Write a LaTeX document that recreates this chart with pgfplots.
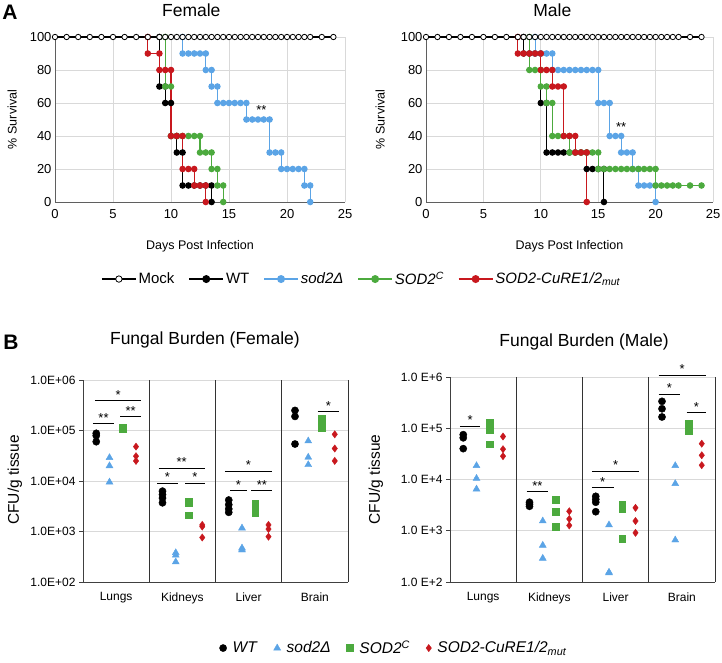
\documentclass[border=0pt]{standalone}
\usepackage{pgfplots}
\pgfplotsset{compat=1.18}
\usepackage{fontspec}
\setmainfont{Liberation Sans}
\definecolor{cblue}{RGB}{91,164,230}
\definecolor{cgreen}{RGB}{76,170,62}
\definecolor{cred}{RGB}{200,24,30}
\definecolor{gridc}{RGB}{217,217,217}
\definecolor{axc}{RGB}{95,95,95}
\pgfplotsset{
 surv/.style={
  scale only axis, height=165pt,
  xmin=0,xmax=25,ymin=0,ymax=100,
  xtick={0,5,...,25}, ytick={0,20,...,100},
  grid=major, major grid style={gridc, line width=0.8pt},
  axis x line=bottom, axis y line=left, axis line style={axc, line width=0.9pt, -},
  major tick length=0pt,
  tick label style={font=\fontsize{13}{15}\selectfont},
  xticklabel style={yshift=-4pt},
  /pgf/number format/assume math mode=true,
  xlabel={Days Post Infection}, ylabel={\% Survival},
  label style={font=\fontsize{12.5}{14}\selectfont},
  xlabel style={at={(axis description cs:0.5,-0.267)}, anchor=center},
  title style={font=\fontsize{17.5}{20}\selectfont, anchor=center},
  clip=false,
  every axis plot/.append style={line width=1.1pt, mark size=2.7pt},
 },
 mock/.style={black, mark=*, mark options={fill=white, draw=black, line width=0.8pt}},
 ser/.style={#1, mark=*, mark options={fill=#1, draw=#1}},
 burden/.style={
  scale only axis, width=265pt,
  xmin=0,xmax=4, ymin=100, ymax=1e6,
  ytick={1e2,1e3,1e4,1e5,1e6}, yminorticks=false,
  xtick={0.5,1.5,2.5,3.5}, xticklabels={Lungs,Kidneys,Liver,Brain},
  ymajorgrids, major grid style={gridc, line width=0.8pt},
  extra x ticks={1,2,3,4}, extra x tick labels={},
  extra x tick style={xmajorgrids=true, major grid style={black!80, line width=0.9pt}},
  axis x line=bottom, axis y line=left, axis line style={black!75, line width=0.9pt,-},
  xtick style={draw=none}, ytick style={draw=black!75, line width=0.8pt},
  tick align=outside, major tick length=4pt,
  yticklabel style={font=\fontsize{12}{14}\selectfont},
  xticklabel style={font=\fontsize{12}{14}\selectfont, yshift=-3pt},
  ylabel={CFU/g tissue}, ylabel style={font=\fontsize{15.5}{17}\selectfont},
  title style={font=\fontsize{17.5}{20}\selectfont, anchor=center},
  clip=false,
  only marks,
 },
 wt/.style={black, mark=*, mark size=3.6pt},
 sd/.style={cblue, mark=triangle*, mark size=4pt},
 sc/.style={cgreen, mark=square*, mark size=3.4pt},
 cu/.style={cred, mark=diamond*, mark size=3.6pt},
 sigl/.style={black, line width=1pt, forget plot, sharp plot, no marks},
}
\begin{document}
\begin{tikzpicture}[x=1pt,y=1pt]
\useasboundingbox (0,0) rectangle (722,662);
\node[font=\bfseries\fontsize{21}{24}\selectfont] at (10,650) {A};
\node[font=\bfseries\fontsize{21}{24}\selectfont] at (11,320) {B};

% ---------------- Female survival
\begin{axis}[surv, width=290pt, at={(55pt,460pt)}, anchor=south west,
  title={Female}, title style={at={(axis description cs:0.47,1.127)}},
  ylabel style={at={(axis description cs:-0.148,0.5)}, anchor=center},
  legend columns=5,
  legend style={at={(axis description cs:1.058,-0.467)}, anchor=center, draw=none,
    font=\fontsize{15}{17}\selectfont, inner sep=0pt,
    /tikz/every even column/.append style={column sep=12pt}},
  legend image code/.code={\draw[mark repeat=2,mark phase=2, line width=1.5pt, mark size=3.2pt] plot coordinates {(0pt,0pt)(17pt,0pt)(34pt,0pt)};},
]
\addlegendimage{mock}
\addlegendentry{Mock}
\addplot[ser=black] coordinates {(9,100)(9,70)(9.5,70)(9.5,60)(10,60)(10,40)(10.5,40)(10.5,30)(11,30)(11,10)(11.5,10)(12,10)(12.5,10)(13,10)(13.5,10)(13.5,0)};
\addlegendentry{WT}
\addplot[ser=cblue] coordinates {(11,100)(11,90)(11.5,90)(12,90)(12.5,90)(13,90)(13,80)(13.5,80)(13.5,70)(14,70)(14,60)(14.5,60)(15,60)(15.5,60)(16,60)(16.5,60)(16.5,50)(17,50)(17.5,50)(18,50)(18.5,50)(18.5,30)(19,30)(19.5,30)(19.5,20)(20,20)(20.5,20)(21,20)(21.5,20)(21.5,10)(22,10)(22,0)};
\addlegendentry{\textit{sod2Δ}}
\addplot[ser=cgreen] coordinates {(9.5,100)(9.5,70)(10,70)(10,40)(10.5,40)(11,40)(11.5,40)(12,40)(12.5,40)(12.5,30)(13,30)(13.5,30)(13.5,20)(14,20)(14,10)(14.5,10)(14.5,0)};
\addlegendentry{\textit{SOD2}\textsuperscript{\textit{C}}}
\addplot[ser=cred] coordinates {(8,100)(8,90)(9,90)(9,80)(9.5,80)(10,80)(10,40)(10.5,40)(11,40)(11,20)(11.5,20)(12,20)(12,10)(12.5,10)(13,10)(13,0)};
\addlegendentry{\textit{SOD2-CuRE1/2}\textsubscript{\textit{mut}}}
\addplot[mock, forget plot] coordinates {(0,100)(1,100)(2,100)(3,100)(4,100)(5,100)(6,100)(7,100)(8,100)(9,100)(9.5,100)(10,100)(10.5,100)(11,100)(11.5,100)(12,100)(12.5,100)(13,100)(13.5,100)(14,100)(14.5,100)(15,100)(15.5,100)(16,100)(16.5,100)(17,100)(17.5,100)(18,100)(18.5,100)(19,100)(19.5,100)(20,100)(20.5,100)(21,100)(21.5,100)(22,100)(23,100)(24,100)};
\node[font=\fontsize{13}{15}\selectfont] at (axis cs:17.8,55.5) {**};
\end{axis}

% ---------------- Male survival
\begin{axis}[surv, width=287pt, at={(426pt,460pt)}, anchor=south west,
  title={Male}, title style={at={(axis description cs:0.44,1.127)}},
  ylabel style={at={(axis description cs:-0.16,0.5)}, anchor=center},
]
\addplot[ser=black] coordinates {(8.5,100)(8.5,90)(9,90)(9.5,90)(10,90)(10,60)(10.5,60)(10.5,30)(11,30)(11.5,30)(12,30)(12.5,30)(13,30)(13.5,30)(14,30)(14,20)(14.5,20)(15,20)(15.5,20)(15.5,0)};
\addplot[ser=cblue] coordinates {(9.5,100)(9.5,90)(10,90)(10.5,90)(11,90)(11,80)(11.5,80)(12,80)(12.5,80)(13,80)(13.5,80)(14,80)(14.5,80)(15,80)(15,60)(15.5,60)(16,60)(16,40)(16.5,40)(17,40)(17,30)(17.5,30)(18,30)(18,20)(18.5,20)(18.5,10)(19,10)(19.5,10)(20,10)(20,0)};
\addplot[ser=cgreen] coordinates {(9,100)(9,80)(9.5,80)(10,80)(10,70)(10.5,70)(10.5,60)(11,60)(11,40)(11.5,40)(12,40)(12.5,40)(12.5,30)(13,30)(13.5,30)(14,30)(14.5,30)(15,30)(15,20)(15.5,20)(16,20)(16.5,20)(17,20)(17.5,20)(18,20)(18.5,20)(19,20)(19.5,20)(20,20)(20,10)(20.5,10)(21,10)(21.5,10)(22,10)(23,10)(24,10)};
\addplot[ser=cred] coordinates {(8,100)(8,90)(8.5,90)(9,90)(9.5,90)(10,90)(10,80)(10.5,80)(11,80)(11,70)(11.5,70)(12,70)(12,40)(12.5,40)(13,40)(13,30)(13.5,30)(14,30)(14,0)};
\addplot[mock] coordinates {(0,100)(1,100)(2,100)(3,100)(4,100)(5,100)(6,100)(7,100)(8,100)(8.5,100)(9,100)(9.5,100)(10,100)(10.5,100)(11,100)(11.5,100)(12,100)(12.5,100)(13,100)(13.5,100)(14,100)(14.5,100)(15,100)(15.5,100)(16,100)(16.5,100)(17,100)(17.5,100)(18,100)(18.5,100)(19,100)(19.5,100)(20,100)(20.5,100)(21,100)(21.5,100)(22,100)(23,100)(24,100)};
\node[font=\fontsize{13}{15}\selectfont] at (axis cs:17.0,45.5) {**};
\end{axis}

% ---------------- Female burden
\begin{semilogyaxis}[burden, height=202pt, at={(83pt,80pt)}, anchor=south west,
  yticklabels={1.0E+02,1.0E+03,1.0E+04,1.0E+05,1.0E+06},
  title={Fungal Burden (Female)}, title style={at={(axis description cs:0.46,1.168)}},
  ylabel style={at={(axis description cs:-0.257,0.505)}, anchor=center},
  legend columns=4,
  legend style={at={(axis description cs:1.174,-0.327)}, anchor=center, draw=none,
    font=\fontsize{15.5}{17}\selectfont, inner sep=0pt,
    /tikz/every odd column/.append style={column sep=4pt},
    /tikz/every even column/.append style={column sep=14pt}},
]
\addplot[wt] coordinates {(0.2,8.8e4)(0.2,7.9e4)(0.2,6.0e4)(1.2,6.3e3)(1.2,5.4e3)(1.2,4.6e3)(1.2,3.7e3)(2.2,4.2e3)(2.2,3.4e3)(2.2,2.8e3)(2.2,2.4e3)(3.2,2.5e5)(3.2,1.9e5)(3.2,5.4e4)};
\addlegendentry{\textit{WT}}
\addplot[sd] coordinates {(0.4,2.9e4)(0.4,2.0e4)(0.4,9.5e3)(1.4,3.8e2)(1.4,3.4e2)(1.4,2.5e2)(2.4,1.17e3)(2.4,4.7e2)(2.4,4.3e2)(3.4,6.2e4)(3.4,2.95e4)(3.4,2.1e4)};
\addlegendentry{\textit{sod2Δ}}
\addplot[sc] coordinates {(0.6,1.12e5)(0.6,1.1e5)(0.6,1.08e5)(1.6,3.9e3)(1.6,3.7e3)(1.6,2.1e3)(2.6,3.6e3)(2.6,2.9e3)(2.6,2.3e3)(3.6,1.7e5)(3.6,1.4e5)(3.6,1.15e5)};
\addlegendentry{\textit{SOD2}\textsuperscript{\textit{C}}}
\addplot[cu] coordinates {(0.8,4.8e4)(0.8,3.1e4)(0.8,2.5e4)(1.8,1.35e3)(1.8,1.25e3)(1.8,7.6e2)(2.8,1.35e3)(2.8,1.12e3)(2.8,7.9e2)(3.8,8.4e4)(3.8,4.4e4)(3.8,2.5e4)};
\addlegendentry{\textit{SOD2-CuRE1/2}\textsubscript{\textit{mut}}}
\addplot[sigl] coordinates {(0.18,3.85e5)(0.88,3.85e5)};
\addplot[sigl] coordinates {(0.15,1.35e5)(0.47,1.35e5)};
\addplot[sigl] coordinates {(0.56,1.86e5)(0.88,1.86e5)};
\addplot[sigl] coordinates {(1.14,1.78e4)(1.84,1.78e4)};
\addplot[sigl] coordinates {(1.12,9.1e3)(1.43,9.1e3)};
\addplot[sigl] coordinates {(1.54,9.1e3)(1.84,9.1e3)};
\addplot[sigl] coordinates {(2.14,1.55e4)(2.85,1.55e4)};
\addplot[sigl] coordinates {(2.22,6.4e3)(2.47,6.4e3)};
\addplot[sigl] coordinates {(2.54,6.4e3)(2.86,6.4e3)};
\addplot[sigl] coordinates {(3.54,2.35e5)(3.87,2.35e5)};
\node[anchor=base, font=\fontsize{13}{15}\selectfont, inner sep=0pt, yshift=1.5pt] at (axis cs:0.53,3.85e5) {*};
\node[anchor=base, font=\fontsize{13}{15}\selectfont, inner sep=0pt, yshift=1.5pt] at (axis cs:0.31,1.35e5) {**};
\node[anchor=base, font=\fontsize{13}{15}\selectfont, inner sep=0pt, yshift=1.5pt] at (axis cs:0.72,1.86e5) {**};
\node[anchor=base, font=\fontsize{13}{15}\selectfont, inner sep=0pt, yshift=1.5pt] at (axis cs:1.49,1.78e4) {**};
\node[anchor=base, font=\fontsize{13}{15}\selectfont, inner sep=0pt, yshift=1.5pt] at (axis cs:1.275,9.1e3) {*};
\node[anchor=base, font=\fontsize{13}{15}\selectfont, inner sep=0pt, yshift=1.5pt] at (axis cs:1.69,9.1e3) {*};
\node[anchor=base, font=\fontsize{13}{15}\selectfont, inner sep=0pt, yshift=1.5pt] at (axis cs:2.495,1.55e4) {*};
\node[anchor=base, font=\fontsize{13}{15}\selectfont, inner sep=0pt, yshift=1.5pt] at (axis cs:2.345,6.4e3) {*};
\node[anchor=base, font=\fontsize{13}{15}\selectfont, inner sep=0pt, yshift=1.5pt] at (axis cs:2.70,6.4e3) {**};
\node[anchor=base, font=\fontsize{13}{15}\selectfont, inner sep=0pt, yshift=1.5pt] at (axis cs:3.705,2.35e5) {*};
\end{semilogyaxis}

% ---------------- Male burden
\begin{semilogyaxis}[burden, height=205pt, at={(450pt,80pt)}, anchor=south west,
  yticklabels={1.0 E+2,1.0 E+3,1.0 E+4,1.0 E+5,1.0 E+6},
  title={Fungal Burden (Male)}, title style={at={(axis description cs:0.506,1.141)}},
  ylabel style={at={(axis description cs:-0.28,0.5)}, anchor=center},
]
\addplot[wt] coordinates {(0.2,7.5e4)(0.2,6.5e4)(0.2,4.0e4)(1.2,3.6e3)(1.2,3.3e3)(1.2,3.0e3)(2.2,4.7e3)(2.2,4.1e3)(2.2,3.6e3)(2.2,2.35e3)(3.2,3.35e5)(3.2,2.4e5)(3.2,1.66e5)};
\addplot[sd] coordinates {(0.4,1.86e4)(0.4,1.05e4)(0.4,6.5e3)(1.4,1.55e3)(1.4,5.2e2)(1.4,2.9e2)(2.4,1.3e3)(2.4,1.55e2)(2.4,1.5e2)(3.4,1.86e4)(3.4,8.3e3)(3.4,6.6e2)};
\addplot[sc] coordinates {(0.6,1.3e5)(0.6,9.4e4)(0.6,4.9e4)(1.6,4.0e3)(1.6,2.35e3)(1.6,1.2e3)(2.6,3.2e3)(2.6,2.7e3)(2.6,6.9e2)(3.6,1.26e5)(3.6,1.05e5)(3.6,9.1e4)};
\addplot[cu] coordinates {(0.8,6.9e4)(0.8,3.9e4)(0.8,2.85e4)(1.8,2.4e3)(1.8,1.7e3)(1.8,1.27e3)(2.8,2.8e3)(2.8,1.55e3)(2.8,9.1e2)(3.8,5.0e4)(3.8,2.97e4)(3.8,1.9e4)};
\addplot[sigl] coordinates {(0.15,1.1e5)(0.46,1.1e5)};
\addplot[sigl] coordinates {(1.155,5.8e3)(1.48,5.8e3)};
\addplot[sigl] coordinates {(2.14,1.45e4)(2.86,1.45e4)};
\addplot[sigl] coordinates {(2.14,6.9e3)(2.47,6.9e3)};
\addplot[sigl] coordinates {(3.15,1.07e6)(3.86,1.07e6)};
\addplot[sigl] coordinates {(3.15,4.6e5)(3.47,4.6e5)};
\addplot[sigl] coordinates {(3.57,2.0e5)(3.87,2.0e5)};
\node[anchor=base, font=\fontsize{13}{15}\selectfont, inner sep=0pt, yshift=1.5pt] at (axis cs:0.305,1.1e5) {*};
\node[anchor=base, font=\fontsize{13}{15}\selectfont, inner sep=0pt, yshift=1.5pt] at (axis cs:1.32,5.8e3) {**};
\node[anchor=base, font=\fontsize{13}{15}\selectfont, inner sep=0pt, yshift=1.5pt] at (axis cs:2.50,1.45e4) {*};
\node[anchor=base, font=\fontsize{13}{15}\selectfont, inner sep=0pt, yshift=1.5pt] at (axis cs:2.305,6.9e3) {*};
\node[anchor=base, font=\fontsize{13}{15}\selectfont, inner sep=0pt, yshift=1.5pt] at (axis cs:3.505,1.07e6) {*};
\node[anchor=base, font=\fontsize{13}{15}\selectfont, inner sep=0pt, yshift=1.5pt] at (axis cs:3.31,4.6e5) {*};
\node[anchor=base, font=\fontsize{13}{15}\selectfont, inner sep=0pt, yshift=1.5pt] at (axis cs:3.72,2.0e5) {*};
\end{semilogyaxis}
\end{tikzpicture}
\end{document}
